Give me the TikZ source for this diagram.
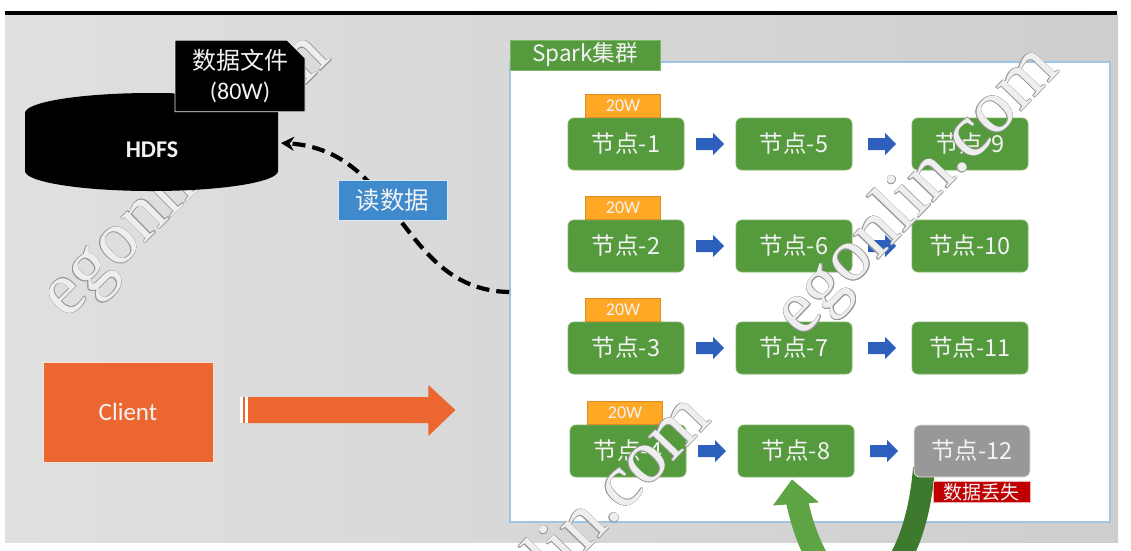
\documentclass[tikz,border=0pt]{standalone}
\usepackage{fontspec}
\setmainfont{Carlito}
\newfontfamily\cjk{Noto Sans CJK SC}
\newfontfamily\wmserif{Liberation Serif}
\usetikzlibrary{shapes.misc,arrows.meta,calc}
\definecolor{bgl}{RGB}{224,224,224}
\definecolor{bgr}{RGB}{206,206,206}
\definecolor{ngreen}{RGB}{86,154,62}
\definecolor{ngreenb}{RGB}{125,182,100}
\definecolor{tabor}{RGB}{255,168,38}
\definecolor{taborb}{RGB}{222,140,32}
\definecolor{arrblue}{RGB}{44,96,188}
\definecolor{readblue}{RGB}{62,138,204}
\definecolor{ngray}{RGB}{152,152,152}
\definecolor{lossred}{RGB}{192,0,0}
\definecolor{clientor}{RGB}{236,102,48}
\definecolor{sparkb}{RGB}{160,196,228}
\definecolor{darkg}{RGB}{62,122,45}
\definecolor{lightg}{RGB}{94,164,68}
\definecolor{wmgray}{RGB}{150,150,150}
\definecolor{wmfill}{RGB}{238,238,238}
\definecolor{txtw}{RGB}{242,242,242}
\newcommand\wmark[2]{%
  \foreach \a in {0,45,...,315}{%
    \node[wmtext, rotate=#2, text=wmgray] at ($#1+(\a:0.5)$) {egonlin.com};}
  \node[wmtext, rotate=#2, text=wmfill] at #1 {egonlin.com};}
\begin{document}
\begin{tikzpicture}[x=1pt,y=-1pt,
  wmtext/.style={anchor=east, inner sep=0pt, font=\wmserif\fontsize{75}{80}\selectfont},
  nodebox/.style={rectangle, rounded corners=6pt, fill=ngreen, draw=ngreenb, line width=0.8pt,
    minimum width=116pt, minimum height=52pt, inner sep=0pt, text=txtw,
    font=\cjk\fontsize{23.5}{27}\selectfont},
  tabbox/.style={rectangle, fill=tabor, draw=taborb, line width=0.6pt, minimum width=75pt,
    minimum height=23pt, inner sep=0pt, text=txtw, anchor=south, font=\fontsize{18}{20}\selectfont},
  labelbox/.style={rectangle, inner sep=0pt, text=txtw},
]
\useasboundingbox (0,0) rectangle (1131,550);
\clip (0,0) rectangle (1131,550);
\fill[white] (0,0) rectangle (1131,550);
\shade[left color=bgl, right color=bgr] (5,15) rectangle (1118,542);
\fill[black] (5,11) rectangle (1117,15);

% watermark behind HDFS
\wmark{(320,46)}{44.5}

% HDFS cylinder
\fill[black] (25,113) -- (25,171) arc[start angle=180, end angle=0, x radius=126.5, y radius=20]
  -- (278,113) arc[start angle=0, end angle=-180, x radius=126.5, y radius=20] -- cycle;
\node[labelbox, font=\bfseries\fontsize{24}{28}\selectfont] (hdfs) at (152,150) {HDFS};
\coordinate (hdfsE) at (281,143);

% data file label
\node[labelbox, chamfered rectangle, chamfered rectangle corners=north east,
  chamfered rectangle xsep=9pt, chamfered rectangle ysep=9pt,
  fill=black, draw=white!85!gray, line width=0.8pt,
  minimum width=130pt, minimum height=68pt, align=center,
  font=\fontsize{24}{30}\selectfont] (file) at (240,76)
  {{\cjk 数据文件}\\(80W)};

% Spark cluster box
\node[rectangle, fill=white, draw=sparkb, line width=1.5pt, minimum width=600pt,
  minimum height=460pt, inner sep=0pt] (spark) at (810,292) {};
\node[labelbox, fill=ngreen, draw=ngreenb, line width=0.8pt, minimum width=150pt,
  minimum height=30pt, font=\cjk\fontsize{22.5}{26}\selectfont] (title) at (585,55) {Spark集群};

% read data connector
\draw[line width=4.2pt, dash pattern=on 13pt off 7pt, -{Stealth[length=13pt,width=14pt]}]
  (spark.west) .. controls +(-110,-2) and +(119,7) .. (hdfsE);
\node[labelbox, fill=readblue, draw=white!80!readblue, line width=0.6pt,
  minimum width=109pt, minimum height=40pt, font=\cjk\fontsize{24.5}{28}\selectfont]
  (read) at (392.5,200) {读数据};

% recovery curved arrow (node-12 -> node-8), drawn under the nodes
\coordinate (c12) at (924,468);
\coordinate (cbot) at (858,592);
\coordinate (c8) at (797,501);
\draw[line width=22pt, darkg] (c12) .. controls (918,545) and (888,592) .. (cbot);
\draw[line width=22pt, lightg] (cbot) .. controls (830,592) and (806,546) .. (c8);

% nodes
\node[nodebox] (n1) at (626,144) {节点-1};
\node[nodebox] (n5) at (794,144) {节点-5};
\node[nodebox] (n9) at (970,144) {节点-9};
\node[nodebox] (n2) at (626,246) {节点-2};
\node[nodebox] (n6) at (794,246) {节点-6};
\node[nodebox] (n10) at (970,246) {节点-10};
\node[nodebox] (n3) at (626,348) {节点-3};
\node[nodebox] (n7) at (794,348) {节点-7};
\node[nodebox] (n11) at (970,348) {节点-11};
\node[nodebox] (n4) at (628,451) {节点-4};
\node[nodebox] (n8) at (796,451) {节点-8};
\node[nodebox, fill=ngray, draw=white!75!ngray] (n12) at (972,451) {节点-12};

% arrowhead of the recovery arrow at node-8
\fill[lightg] ($(n8.south)+(-4,2)$) -- ($(n8.south)+(-23,28)$) -- ($(n8.south)+(23,25)$) -- cycle;

% 20W tabs
\node[tabbox] (t1) at ($(n1.north)+(-3,0)$) {20W};
\node[tabbox] (t2) at ($(n2.north)+(-3,0)$) {20W};
\node[tabbox] (t3) at ($(n3.north)+(-3,0)$) {20W};
\node[tabbox] (t4) at ($(n4.north)+(-3,0)$) {20W};

% blue block arrows
\foreach \a/\b in {n1/n5,n5/n9,n2/n6,n6/n10,n3/n7,n7/n11,n4/n8,n8/n12}{
  \path (\a.east) -- coordinate[midway] (m-\a) (\b.west);
  \fill[arrblue] ($(m-\a)+(-14,-6)$) -- ($(m-\a)+(3,-6)$) -- ($(m-\a)+(3,-11)$)
    -- ($(m-\a)+(14,0)$) -- ($(m-\a)+(3,11)$) -- ($(m-\a)+(3,6)$) -- ($(m-\a)+(-14,6)$) -- cycle;
}

% data lost label
\node[labelbox, fill=lossred, draw=white!70!lossred, line width=0.5pt, anchor=north east,
  minimum width=97pt, minimum height=21pt, font=\cjk\fontsize{19}{21}\selectfont]
  (lost) at ($(n12.south east)+(0,4)$) {数据丢失};

% client
\node[labelbox, fill=clientor, draw=white!80!clientor, line width=0.8pt,
  minimum width=170pt, minimum height=100pt, font=\fontsize{25}{28}\selectfont]
  (client) at (128,412) {Client};
\coordinate (ca) at (client.east);
\fill[clientor] ($(ca)+(27,-15)$) -- ($(ca)+(215,-15)$) -- ($(ca)+(215,-27)$) -- ($(ca)+(242,-2)$)
  -- ($(ca)+(215,24)$) -- ($(ca)+(215,11)$) -- ($(ca)+(27,11)$) -- cycle;
\fill[white] ($(ca)+(27,-15)$) rectangle ($(ca)+(30,11)$);
\fill[white] ($(ca)+(32,-15)$) rectangle ($(ca)+(35,11)$);

% watermarks over the cluster
\wmark{(1048,58)}{46}
\wmark{(700,408)}{46}
\end{tikzpicture}
\end{document}
